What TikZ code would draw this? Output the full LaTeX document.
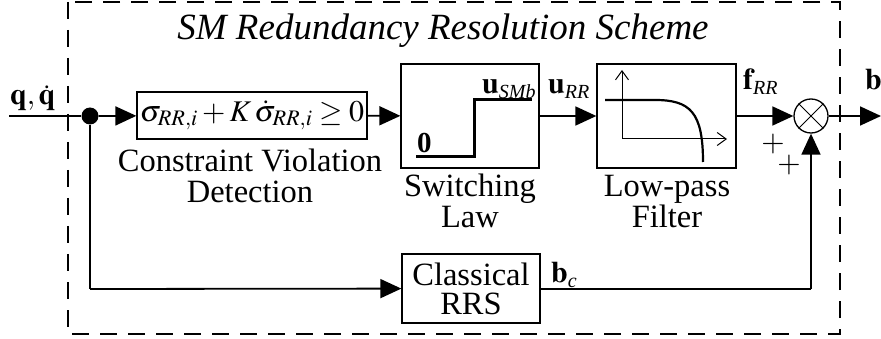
\documentclass[tikz,border=0pt]{standalone}
\usepackage{mathptmx}
\usepackage{fontspec}
\setmainfont{Liberation Serif}
\usetikzlibrary{arrows.meta}
\newcommand\subtxt[1]{\mbox{\fontsize{20}{20}\selectfont\itshape #1}}
\begin{document}
\begin{tikzpicture}[x=1pt,y=-1pt,
  font=\fontsize{32.5}{31}\selectfont,
  blk/.style={draw,line width=1.3pt,inner sep=0pt,align=center},
  conn/.style={line width=1.8pt,-{Triangle[length=21pt,width=19pt]}},
  wire/.style={line width=1.8pt},
  lbl/.style={anchor=base west,inner sep=0pt,font=\fontsize{30}{31}\selectfont},
  capt/.style={anchor=base,inner sep=0pt,align=center},
  axis/.style={line width=1pt,-{Straight Barb[length=9pt,width=13pt]}}]
\useasboundingbox (0,0) rectangle (881,339);
% frame
\draw[line width=2.6pt,dash pattern=on 17pt off 11pt] (68,2) rectangle (840,334);
\node[anchor=base,inner sep=0pt,font=\fontsize{37}{38}\selectfont\itshape] (title) at (443,40) {SM Redundancy Resolution Scheme};
% blocks
\node[blk,minimum width=230pt,minimum height=47pt] (cvd) at (252,115.5)
  {\fontsize{30}{32}\selectfont$\sigma_{RR,i}+K\,\dot{\sigma}_{RR,i}\geq 0$};
\node[blk,minimum width=138pt,minimum height=104pt] (sw) at (470,116) {};
\node[blk,minimum width=139pt,minimum height=104pt] (lpf) at (666.5,116) {};
\node[blk,minimum width=138pt,minimum height=69pt] (rrs) at (471,288.5) {Classical\\[-2pt]RRS};
\node[draw,circle,line width=1.3pt,minimum size=34pt,inner sep=0pt] (sum) at (811,116) {};
\draw[line width=1pt] (sum.north west) -- (sum.south east) (sum.north east) -- (sum.south west);
\node[circle,fill,minimum size=17pt,inner sep=0pt] (dot) at (90,116) {};
\coordinate (in) at (9,116);
\coordinate (out) at (881,116);
\coordinate (c1) at (90,289);
\coordinate (c2) at (811,289);
% block captions (base = last line)
\node[capt] (cvdl) at (250,203) {Constraint Violation\\Detection};
\node[capt] (swl) at (470,228) {Switching\\Law};
\node[capt] (lpfl) at (667,228) {Low-pass\\Filter};
% switching law graphic
\draw[line width=3pt] (416,157) -- (474,157) -- (474,100) -- (532,100);
\node[anchor=base west,inner sep=0pt,font=\fontsize{29}{30}\selectfont\bfseries] (zero) at (417,153) {0};
\node[lbl] (usmb) at (482,94) {$\mathbf{u}_{\subtxt{SMb}}$};
% filter graphic
\draw[axis] (622,139) -- (622,70);
\draw[axis] (622,139) -- (727,139);
\draw[line width=2.2pt] (605,100) -- (655,100) .. controls (690,100) and (703,112) .. (703,162);
% connectors
\draw[wire] (in) -- (dot);
\draw[conn] (dot) -- (cvd);
\draw[conn] (cvd) -- (sw);
\draw[conn] (sw) -- (lpf);
\draw[conn] (lpf) -- (sum);
\draw[conn] (sum) -- (out);
\draw[wire] (dot) -- (c1);
\draw[conn] (c1) -- (rrs);
\draw[wire] (rrs.east |- c2) -- (c2);
\draw[conn] (c2) -- (sum);
% signal labels
\node[lbl] (ql) at (10,105) {$\mathbf{q},\dot{\mathbf{q}}$};
\node[lbl] (url) at (548,94) {$\mathbf{u}_{\subtxt{RR}}$};
\node[lbl] (frl) at (743,90) {$\mathbf{f}_{\subtxt{RR}}$};
\node[lbl] (bl) at (865,90) {$\mathbf{b}$};
\node[lbl] (bcl) at (551,283) {$\mathbf{b}_{\subtxt{c}}$};
\node[inner sep=0pt,font=\fontsize{30}{30}\selectfont] (p1) at (773,144) {$+$};
\node[inner sep=0pt,font=\fontsize{30}{30}\selectfont] (p2) at (789,165) {$+$};
\end{tikzpicture}
\end{document}
